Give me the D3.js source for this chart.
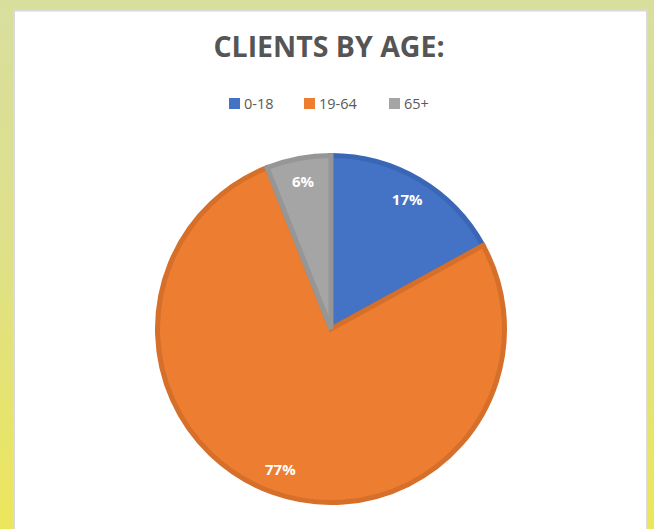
<!DOCTYPE html>
<html>
<head>
<meta charset="utf-8">
<script src="https://cdn.jsdelivr.net/npm/d3@7"></script>
<style>
  html, body { margin: 0; padding: 0; }
  body { width: 654px; height: 529px; overflow: hidden; }
  svg { display: block; }
</style>
</head>
<body>
<svg id="chart"></svg>
<script>
// data
var categories = ["0-18", "19-64", "65+"];
var values = [17, 77, 6];
var labels = ["17%", "77%", "6%"];
var colors = ["#4472c4", "#ed7d31", "#a5a5a5"];
var borders = ["#3a66b6", "#d56f2a", "#969696"];

var width = 654, height = 529;

var svg = d3.select("#chart")
  .attr("width", width)
  .attr("height", height);

// background gradient frame
var defs = svg.append("defs");
var grad = defs.append("linearGradient")
  .attr("id", "bg")
  .attr("x1", 0).attr("y1", 0).attr("x2", 0).attr("y2", 1);
grad.append("stop").attr("offset", "0%").attr("stop-color", "#d8de9d");
grad.append("stop").attr("offset", "45%").attr("stop-color", "#dee08a");
grad.append("stop").attr("offset", "100%").attr("stop-color", "#ece65c");

svg.append("rect")
  .attr("width", width).attr("height", height)
  .attr("fill", "url(#bg)");

// white panel with light gray edge
svg.append("rect")
  .attr("x", 13).attr("y", 9.5)
  .attr("width", 635).attr("height", 540)
  .attr("fill", "#d9d9d9");
svg.append("rect")
  .attr("x", 15).attr("y", 11.5)
  .attr("width", 631).attr("height", 540)
  .attr("fill", "#ffffff");

// title
svg.append("text")
  .attr("x", 329).attr("y", 57)
  .attr("text-anchor", "middle")
  .style("font-family", "'Open Sans', sans-serif")
  .style("font-weight", "bold")
  .style("font-size", "28.5px")
  .attr("fill", "#555555")
  .text("CLIENTS BY AGE:");

// legend
var legendX = [229, 304, 389];
var legend = svg.append("g").selectAll("g")
  .data(categories)
  .enter().append("g")
    .attr("transform", function(d, i) { return "translate(" + legendX[i] + ",98)"; });

legend.append("rect")
  .attr("width", 11).attr("height", 11)
  .attr("fill", function(d, i) { return colors[i]; });

legend.append("text")
  .attr("x", 15).attr("y", 11)
  .style("font-family", "'Open Sans', sans-serif")
  .style("font-size", "14.5px")
  .attr("fill", "#595959")
  .text(function(d) { return d; });

// pie
var cx = 331, cy = 329, r = 176;

var pie = d3.pie().sort(null).value(function(d) { return d; });
var arcs = pie(values);

var innerArc = d3.arc().innerRadius(0).outerRadius(r - 2.5);
var labelArc = d3.arc().innerRadius(r * 0.85).outerRadius(r * 0.85);

var g = svg.append("g")
  .attr("transform", "translate(" + cx + "," + cy + ")");

g.selectAll("path.slice")
  .data(arcs)
  .enter().append("path")
    .attr("class", "slice")
    .attr("d", innerArc)
    .attr("fill", function(d, i) { return colors[i]; })
    .attr("stroke", function(d, i) { return borders[i]; })
    .attr("stroke-width", 5)
    .attr("stroke-linejoin", "miter");

g.selectAll("text.lbl")
  .data(arcs)
  .enter().append("text")
    .attr("class", "lbl")
    .attr("transform", function(d) { return "translate(" + labelArc.centroid(d) + ")"; })
    .attr("text-anchor", "middle")
    .attr("dy", "0.35em")
    .style("font-family", "'Open Sans', sans-serif")
    .style("font-weight", "bold")
    .style("font-size", "15px")
    .attr("fill", "#ffffff")
    .text(function(d, i) { return labels[i]; });
</script>
</body>
</html>
